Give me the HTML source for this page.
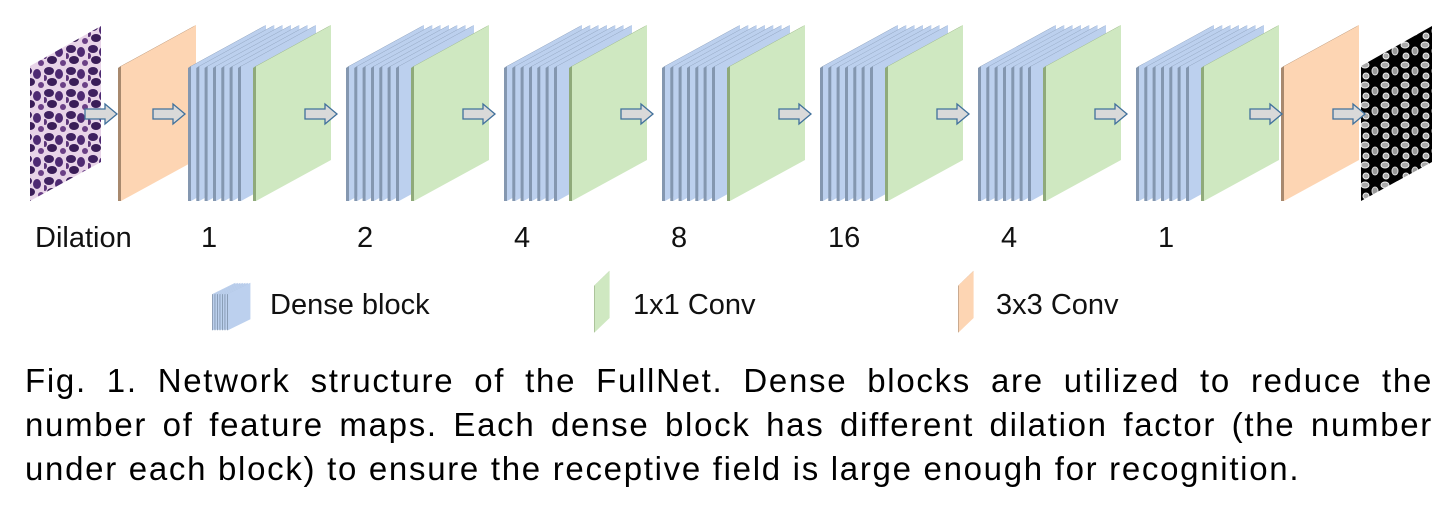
<!DOCTYPE html>
<html><head><meta charset="utf-8"><style>
body{margin:0;background:#fff;width:1445px;height:507px;overflow:hidden;position:relative}
.t{position:absolute;font-family:"Liberation Sans",sans-serif;font-size:29px;color:#111;white-space:nowrap}
.cap{position:absolute;left:25px;top:359px;width:1408px;font-family:"Liberation Sans",sans-serif;font-size:33px;letter-spacing:1.7px;line-height:44px;color:#000}
.cap div{text-align:justify;text-align-last:justify;white-space:nowrap}
.cap div.l{text-align-last:left}
</style></head><body>
<svg width="1445" height="345" style="position:absolute;left:0;top:0">
<defs>
<pattern id="he" width="22" height="22" patternUnits="userSpaceOnUse">
<rect width="22" height="22" fill="#e8d4e8"/>
<ellipse cx="5" cy="5" rx="5" ry="4" fill="#3f2160"/><ellipse cx="15" cy="8" rx="4" ry="5" fill="#4e2a72"/>
<ellipse cx="8" cy="16" rx="5" ry="4" fill="#3a1d58"/><ellipse cx="19" cy="19" rx="3" ry="3" fill="#6a3f86"/>
<ellipse cx="1" cy="12" rx="2" ry="3" fill="#5b3479"/>
</pattern>
<pattern id="mk" width="20" height="20" patternUnits="userSpaceOnUse">
<rect width="20" height="20" fill="#000"/>
<ellipse cx="5" cy="5" rx="4" ry="3" fill="#aaa" stroke="#eee"/><ellipse cx="15" cy="11" rx="3" ry="4" fill="#999" stroke="#ddd"/>
<ellipse cx="6" cy="16" rx="3" ry="3" fill="#aaa" stroke="#eee"/>
</pattern>
<g id="arr"><polygon points="0,-5 20,-5 20,-10 32,0 20,10 20,5 0,5" fill="#d9d9d9" stroke="#41719c" stroke-width="1.3"/></g>
<g id="slab">
<polygon points="3,66 78,25 78,160 3,201" fill="#bcd0ee"/>
<polygon points="0,68 75,27 78,25 3,66" fill="#8497b0"/>
<polygon points="0,68 3,66 3,201 0,201" fill="#8497b0"/>
</g>
<g id="grn">
<polygon points="3,66 78,25 78,160 3,201" fill="#cfe8c1"/>
<polygon points="0,68 75,27 78,25 3,66" fill="#8faa7a"/>
<polygon points="0,68 3,66 3,201 0,201" fill="#8faa7a"/>
</g>
<g id="org">
<polygon points="3,66 78,25 78,160 3,201" fill="#fdd5b3"/>
<polygon points="0,68 75,27 78,25 3,66" fill="#a8896e"/>
<polygon points="0,68 3,66 3,201 0,201" fill="#a8896e"/>
</g>
<g id="stk">
<use href="#slab" x="0"/><use href="#slab" x="8.3"/><use href="#slab" x="16.6"/><use href="#slab" x="25"/><use href="#slab" x="33.3"/><use href="#slab" x="41.6"/><use href="#slab" x="50"/>
</g>
<g id="blk">
<use href="#stk"/>
<use href="#grn" x="65"/>
</g>
</defs>
<polygon points="30,66 101,26 101,162 30,201" fill="url(#he)"/>
<use href="#org" x="118"/>
<use href="#blk" x="188"/><use href="#blk" x="346"/><use href="#blk" x="504"/><use href="#blk" x="662"/><use href="#blk" x="820"/><use href="#blk" x="978"/><use href="#blk" x="1136"/>
<use href="#org" x="1281"/>
<polygon points="1361,66 1432,26 1432,162 1361,201" fill="url(#mk)"/>
<use href="#arr" x="85" y="114"/><use href="#arr" x="153" y="114"/>
<use href="#arr" x="305" y="114"/><use href="#arr" x="463" y="114"/><use href="#arr" x="621" y="114"/><use href="#arr" x="779" y="114"/><use href="#arr" x="937" y="114"/><use href="#arr" x="1095" y="114"/><use href="#arr" x="1250" y="114"/><use href="#arr" x="1333" y="114"/>
<g transform="translate(212,276) scale(0.3,0.27)"><use href="#stk"/></g>
<g transform="translate(594,262) scale(0.2,0.35)"><use href="#grn"/></g>
<g transform="translate(958,262) scale(0.2,0.35)"><use href="#org"/></g>
</svg>
<div class="t" style="left:35px;top:222px">Dilation</div>
<div class="t" style="left:201px;top:222px">1</div>
<div class="t" style="left:357px;top:222px">2</div>
<div class="t" style="left:514px;top:222px">4</div>
<div class="t" style="left:671px;top:222px">8</div>
<div class="t" style="left:828px;top:222px">16</div>
<div class="t" style="left:1001px;top:222px">4</div>
<div class="t" style="left:1158px;top:222px">1</div>
<div class="t" style="left:270px;top:289px">Dense block</div>
<div class="t" style="left:633px;top:289px">1x1 Conv</div>
<div class="t" style="left:996px;top:289px">3x3 Conv</div>
<div class="cap">
<div>Fig. 1. Network structure of the FullNet. Dense blocks are utilized to reduce the</div>
<div>number of feature maps. Each dense block has different dilation factor (the number</div>
<div class="l">under each block) to ensure the receptive field is large enough for recognition.</div>
</div>
</body></html>
